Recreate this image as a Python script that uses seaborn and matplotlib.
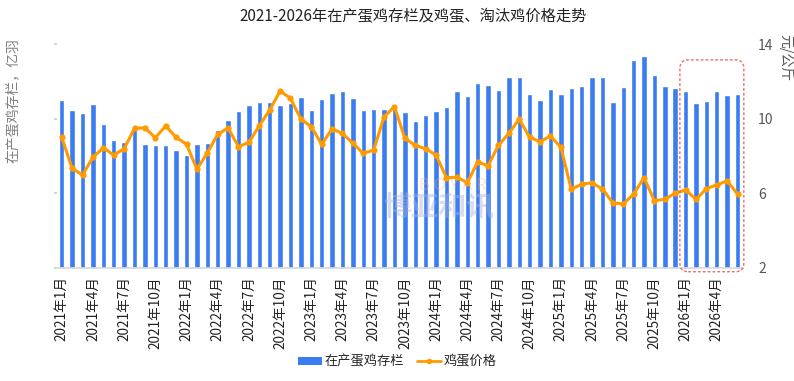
import matplotlib
matplotlib.use("Agg")
import matplotlib.pyplot as plt
import seaborn as sns
import pandas as pd
from matplotlib.patches import FancyBboxPatch, Patch
from matplotlib.lines import Line2D

# monthly categories 2021-01 .. 2026-06
months = [f"{y}年{m}月" for y in range(2021, 2027) for m in range(1, 13)][:66]

# 在产蛋鸡存栏 (亿羽)
stock = [11.00, 10.45, 10.30, 10.77, 9.70, 8.86, 8.75, 9.48, 8.64, 8.57, 8.57, 8.32,
         8.05, 8.64, 8.68, 9.39, 9.93, 10.41, 10.75, 10.87, 10.89, 10.71, 10.82, 11.14,
         10.48, 11.03, 11.39, 11.50, 11.09, 10.48, 10.52, 10.52, 10.52, 10.37, 9.86, 10.18,
         10.41, 10.61, 11.50, 11.20, 11.89, 11.80, 11.53, 12.25, 12.25, 11.32, 10.98, 11.57,
         11.32, 11.66, 11.73, 12.21, 12.21, 10.91, 11.70, 13.14, 13.36, 12.34, 11.77, 11.63,
         11.46, 10.84, 10.93, 11.46, 11.28, 11.32]

# 鸡蛋价格 (元/公斤)
price = [9.00, 7.34, 6.98, 7.93, 8.44, 8.05, 8.39, 9.48, 9.51, 8.98, 9.61, 9.00,
         8.63, 7.29, 8.16, 9.16, 9.50, 8.50, 8.73, 9.62, 10.46, 11.48, 11.09, 9.98,
         9.57, 8.63, 9.45, 9.21, 8.68, 8.14, 8.32, 10.10, 10.64, 8.95, 8.57, 8.39,
         8.05, 6.84, 6.86, 6.57, 7.68, 7.48, 8.57, 9.21, 9.98, 9.00, 8.77, 9.07,
         8.47, 6.23, 6.48, 6.57, 6.23, 5.50, 5.43, 5.96, 6.84, 5.61, 5.68, 6.00,
         6.18, 5.68, 6.25, 6.46, 6.66, 5.96]

y_ticks = [2, 6, 10, 14]

df = pd.DataFrame({"month": months, "idx": range(len(months)),
                   "stock": stock, "price": price})

BAR_BLUE = "#3b7cf0"
LINE_ORANGE = "#ff9a00"

sns.set_theme(style="white")
plt.rcParams["font.family"] = ["Noto Sans CJK SC", "DejaVu Sans"]

fig = plt.figure(figsize=(7.94, 3.81), dpi=100)
ax = fig.add_axes([0.0712, 0.2966, 0.8643, 0.5879])

sns.barplot(data=df, x="month", y="stock", color=BAR_BLUE, saturation=1,
            width=0.52, ax=ax)
ax.set_ylim(2, 14)
ax.set_yticks(y_ticks)
ax.set_yticklabels([])
ax.tick_params(axis="y", left=True, length=2, color="#d0d0d0")
ax.set_xticks(range(0, len(months), 3))
ax.set_xticklabels(months[::3], rotation=90, fontsize=9.8, color="#222222")
ax.tick_params(axis="x", length=0, pad=6)
ax.set_xlabel("")
ax.set_ylabel("")
for s in ["top", "left", "right"]:
    ax.spines[s].set_visible(False)
ax.spines["bottom"].set_color("#d9d9d9")

ax2 = ax.twinx()
sns.lineplot(data=df, x="idx", y="price", color=LINE_ORANGE, marker="o",
             markersize=4.5, markeredgewidth=0, linewidth=2.2, ax=ax2)
ax2.set_ylim(2, 14)
ax2.set_yticks(y_ticks)
ax2.tick_params(axis="y", length=0, pad=11, labelsize=10, labelcolor="#555555")
ax2.set_xlabel("")
ax2.set_ylabel("")
for s in ax2.spines.values():
    s.set_visible(False)
ax.set_xlim(-0.5, len(months) - 0.5)

# red dashed highlight around 2026
box = FancyBboxPatch((59.45, 1.8), 6.15, 11.35,
                     boxstyle="round,pad=0,rounding_size=0.8", mutation_aspect=0.56,
                     fill=False, edgecolor="#f06a6a", linestyle=(0, (2, 1.5)),
                     linewidth=1, clip_on=False, zorder=5)
ax2.add_patch(box)

# watermark
fig.text(0.552, 0.455, "博亚和讯", fontsize=20, color="#aab3d8", alpha=0.45,
         ha="center", va="center", fontweight="bold", zorder=10)
fig.text(0.57, 0.512, "B O Y A R", fontsize=12, color="#f5b47a", alpha=0.35,
         ha="center", va="center", zorder=10)

fig.text(0.52, 0.957, "2021-2026年在产蛋鸡存栏及鸡蛋、淘汰鸡价格走势",
         ha="center", va="center", fontsize=11, color="#222222")
fig.text(0.016, 0.90, "在产蛋鸡存栏，亿羽", rotation=90, ha="center", va="top",
         fontsize=10, color="#808080")
fig.text(0.989, 0.91, "元/公斤", rotation=-90, ha="center", va="top",
         fontsize=10, color="#555555")

handles = [Patch(facecolor=BAR_BLUE, edgecolor="none"),
           Line2D([0], [0], color=LINE_ORANGE, lw=2, marker="o", markersize=4,
                  markeredgewidth=0)]
fig.legend(handles, ["在产蛋鸡存栏", "鸡蛋价格"], loc="center",
           bbox_to_anchor=(0.5, 0.05), ncol=2, frameon=False, fontsize=9.5,
           handlelength=1.8, handleheight=0.6, columnspacing=1.0, handletextpad=0.2)

fig.savefig("out.png", dpi=100)
